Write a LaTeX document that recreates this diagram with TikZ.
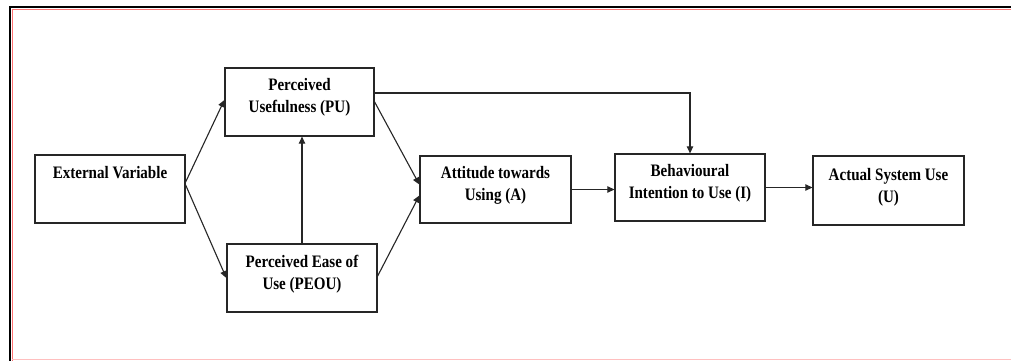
\documentclass[tikz,border=0pt]{standalone}
\usepackage{fontspec}
\setmainfont{Liberation Serif}[FakeStretch=0.86]
\usetikzlibrary{arrows.meta}
\begin{document}
\begin{tikzpicture}[x=1pt,y=-1pt,
  box/.style={draw=black!85,line width=1.3pt,minimum width=#1,minimum height=68pt,inner sep=0pt},
  lbl/.style={font=\fontsize{17.5}{22}\selectfont\bfseries,align=center,inner sep=0pt},
  conn/.style={draw=black!85,line width=1.1pt,-{Triangle[length=7pt,width=6.5pt]}}]
\useasboundingbox (0,0) rectangle (1011,361);
\fill[white] (0,0) rectangle (1011,361);
% frame
\draw[line width=2pt,black] (10,361) -- (10,7) -- (1011,7);
\draw[line width=0.8pt,red!55] (12.3,361) -- (12.3,9.3) -- (1011,9.3);
\draw[line width=1pt,red!25] (12,359.5) -- (1011,359.5);
% boxes
\node[box=150pt] (EV) at (110,189) {};
\node[box=149pt] (PU) at (299.5,102) {};
\node[box=150pt] (PEOU) at (302,278) {};
\node[box=151pt,minimum height=67pt] (A) at (495.5,189.5) {};
\node[box=150pt,minimum height=67pt] (BI) at (690,187.5) {};
\node[box=151pt,minimum height=69pt] (ASU) at (888.5,190.5) {};
% labels
\node[lbl] (EVt) at (110,173) {External Variable};
\node[lbl] (PUt) at (299.5,97.5) {Perceived\\Usefulness (PU)};
\node[lbl] (PEOUt) at (302,274) {Perceived Ease of\\Use (PEOU)};
\node[lbl] (At) at (495.5,185) {Attitude towards\\Using (A)};
\node[lbl] (BIt) at (690,183.5) {Behavioural\\Intention to Use (I)};
\node[lbl] (ASUt) at (888.5,187) {Actual System Use\\(U)};
% connectors
\draw[conn] ([yshift=7pt]EV.east) -- ([yshift=2pt]PU.west);
\draw[conn] ([yshift=4pt]EV.east) -- (PEOU.west);
\draw[conn] (PEOU.north) -- (PEOU.north |- PU.south);
\draw[conn] (PU.east) -- ([yshift=5pt]A.west);
\draw[conn] ([yshift=2pt]PEOU.east) -- ([yshift=-6pt]A.west);
\draw[conn] (A.east) -- (A.east -| BI.west);
\draw[conn] ([yshift=9pt]PU.east) -| (BI.north);
\draw[conn] (BI.east) -- (BI.east -| ASU.west);
\end{tikzpicture}
\end{document}
